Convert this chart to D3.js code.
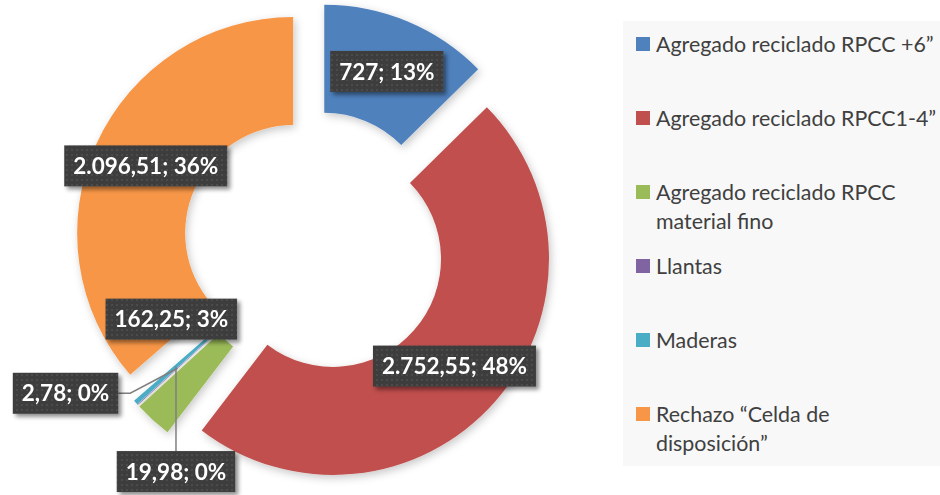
<!DOCTYPE html>
<meta charset="utf-8">
<style>
 body {
   margin: 0;
   background-color: #fff;
 }

 svg {
   font-family: Lato, "Open Sans", sans-serif;
 }

 .legend text {
   fill: #404040;
   font-size: 21.4px;
 }

 .labels text {
   fill: #fff;
   font-weight: bold;
   font-size: 22.5px;
 }

 .leaders path {
   fill: none;
   stroke: #7f7f7f;
   stroke-width: 1.5;
 }
</style>

<svg width="940" height="495">
  <defs>
    <filter id="slice-shadow" x="-20%" y="-20%" width="140%" height="140%">
      <feDropShadow dx="2" dy="3" stdDeviation="4" flood-color="#000" flood-opacity="0.22"/>
    </filter>
    <filter id="box-shadow" x="-20%" y="-30%" width="140%" height="160%">
      <feDropShadow dx="3" dy="3" stdDeviation="2" flood-color="#000" flood-opacity="0.45"/>
    </filter>
    <pattern id="dots" width="5" height="5" patternUnits="userSpaceOnUse">
      <rect width="5" height="5" fill="#3e3e3e"/>
      <rect x="1" y="1" width="2" height="2" fill="#4b4b4b"/>
    </pattern>
  </defs>
</svg>

<script src="https://cdn.jsdelivr.net/npm/d3@7"></script>
<script>

 // datos
 var names = [
   'Agregado reciclado RPCC +6”',
   'Agregado reciclado RPCC1-4”',
   'Agregado reciclado RPCC\nmaterial fino',
   'Llantas',
   'Maderas',
   'Rechazo “Celda de\ndisposición”'
 ]
 var values = [727, 2752.55, 162.25, 2.78, 19.98, 2096.51]
 var colors = ['#4f81bd', '#c0504d', '#9bbb59', '#8064a2', '#4bacc6', '#f79646']

 // where each label sits relative to its slice centroid, and how the leader runs
 var labelShift = [[0, 0], [0, 0], [-18, -61], [-112, 25], [0, 105], [0, 0]]
 var leaderType = [null, null, null, 'side', 'top', null]

 var cx = 315, cy = 243
 var outerR = 216, innerR = 108, explode = 24

 var svg = d3.select('svg')

 var es = d3.formatLocale({decimal: ',', thousands: '.', grouping: [3], currency: ['', '']})
 var total = d3.sum(values)
 function labelText(v) {
   var num = Number.isInteger(v) ? es.format(',')(v) : es.format(',.2f')(v)
   return num + '; ' + Math.round(v / total * 100) + '%'
 }

 var pie = d3.pie().sort(null).value(d => d)
 var arcs = pie(values)
 var arc = d3.arc().innerRadius(innerR).outerRadius(outerR)

 function offset(a) {
   var mid = (a.startAngle + a.endAngle) / 2
   return [Math.sin(mid) * explode, -Math.cos(mid) * explode]
 }

 var chart = svg.append('g')
                .attr('transform', `translate(${cx},${cy})`)

 chart.append('g')
      .attr('class', 'slices')
      .attr('filter', 'url(#slice-shadow)')
      .selectAll('path')
      .data(arcs)
      .join('path')
      .attr('transform', d => `translate(${offset(d)})`)
      .attr('fill', (d, i) => colors[i])
      .attr('d', arc)

 var leaders = chart.append('g').attr('class', 'leaders')
 var labels = chart.append('g').attr('class', 'labels')

 arcs.forEach(function (d, i) {
   var o = offset(d)
   var c = arc.centroid(d)
   var px = c[0] + o[0], py = c[1] + o[1]
   var lx = px + labelShift[i][0], ly = py + labelShift[i][1]

   var g = labels.append('g')
   var box = g.append('rect')
              .attr('fill', 'url(#dots)')
              .attr('filter', 'url(#box-shadow)')
   var t = g.append('text')
            .attr('x', lx)
            .attr('y', ly)
            .attr('dy', '0.36em')
            .attr('text-anchor', 'middle')
            .text(labelText(values[i]))
   var w = t.node().getComputedTextLength() + 18
   var h = 41
   box.attr('x', lx - w / 2).attr('y', ly - h / 2)
      .attr('width', w).attr('height', h)

   if (leaderType[i] == 'side') {
     var ex = lx + w / 2
     leaders.append('path')
            .attr('d', `M${px},${py} L${ex + 12},${ly} L${ex},${ly}`)
   } else if (leaderType[i] == 'top') {
     leaders.append('path')
            .attr('d', `M${px},${py} L${px},${ly - h / 2}`)
   }
 })

 // leyenda
 var legend = svg.append('g').attr('class', 'legend')
 legend.append('rect')
       .attr('x', 623).attr('y', 21)
       .attr('width', 320).attr('height', 445)
       .attr('fill', '#f8f8f8')

 var row = d3.scaleLinear().domain([0, 1]).range([44, 118])

 names.forEach(function (name, i) {
   var y = row(i)
   legend.append('rect')
         .attr('x', 636).attr('y', y - 7)
         .attr('width', 14).attr('height', 14)
         .attr('fill', colors[i])
   var t = legend.append('text')
                 .attr('x', 656)
                 .attr('y', y + 7.5)
   name.split('\n').forEach(function (line, j) {
     t.append('tspan')
      .attr('x', 656)
      .attr('dy', j ? 29 : 0)
      .text(line)
   })
 })

</script>
